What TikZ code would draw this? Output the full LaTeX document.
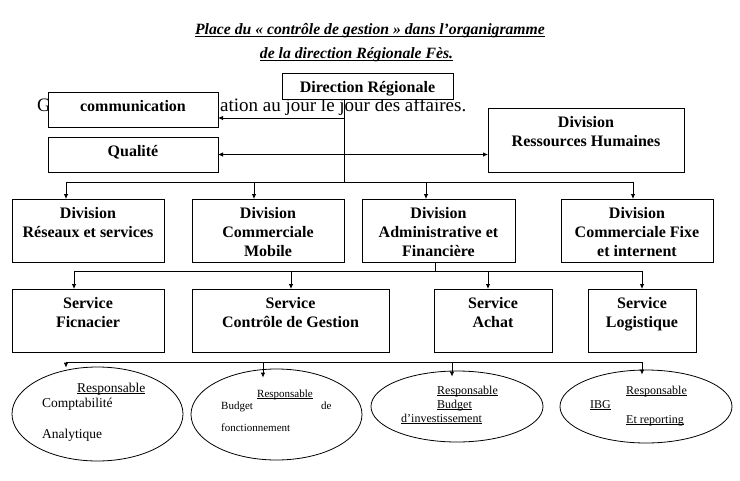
\documentclass[tikz,border=0pt]{standalone}
\usepackage{fontspec}
\setmainfont{Liberation Serif}
\usetikzlibrary{arrows.meta,shapes.geometric}
\newcommand\ulx[2][1.6pt]{\setbox0\hbox{#2}\rlap{\rule[-#1]{\wd0}{0.8pt}}\box0}
\newcommand\setfs[1]{\fontsize{#1}{#1}\selectfont}
\tikzset{
  box/.style={draw, fill=white, line width=0.8pt, inner sep=0pt, outer sep=0pt},
  lab/.style={anchor=north, align=center, inner sep=0pt, yshift=-6pt, font=\bfseries\fontsize{16}{19}\selectfont},
  conn/.style={line width=0.8pt},
  arr/.style={line width=0.8pt, -{Latex[length=5pt,width=4.5pt]}},
  darr/.style={line width=0.8pt, {Latex[length=5pt,width=4.5pt]}-{Latex[length=5pt,width=4.5pt]}},
  oval/.style={draw, ellipse, line width=0.8pt, inner sep=0pt},
  etext/.style={anchor=base west, inner sep=0pt},
  ttl/.style={anchor=base, inner sep=0pt, font=\bfseries\itshape\setfs{15.7}},
  bgtext/.style={anchor=base west, inner sep=0pt, font=\setfs{19}},
}
\begin{document}
\begin{tikzpicture}[x=1pt,y=-1pt]
\fill[white] (0,0) rectangle (740,480);
\useasboundingbox (0,0) rectangle (740,480);

% title
\node[ttl] (title1) at (370,34)
  {\ulx[3pt]{Place du « contrôle de gestion » dans l’organigramme}};
\node[ttl] (title2) at (356.5,58)
  {\ulx[3pt]{de la direction Régionale Fès.}};

% background text fragments, partly hidden by the boxes
\node[bgtext] (bg1) at (37,111) {G};
\node[bgtext] (bg2) at (220,111) {ation au jour le jour des affaires.};

% top boxes
\node[box, minimum width=171, minimum height=26,
  label={[lab]north:{\strut Direction Régionale}}] (dr) at (367.5,86) {};
\node[box, minimum width=170, minimum height=35,
  label={[lab]north:{\strut communication}}] (com) at (133,109.5) {};
\node[box, minimum width=170, minimum height=35,
  label={[lab]north:{\strut Qualité}}] (qual) at (133,154.5) {};
\node[box, minimum width=196, minimum height=64,
  label={[lab]north:{\strut Division\\\strut Ressources Humaines}}] (drh) at (586,140) {};

% divisions
\node[box, minimum width=152, minimum height=63,
  label={[lab]north:{\strut Division\\\strut Réseaux et services}}] (d1) at (88,230.5) {};
\node[box, minimum width=152, minimum height=63,
  label={[lab]north:{\strut Division\\\strut Commerciale\\\strut Mobile}}] (d2) at (268,230.5) {};
\node[box, minimum width=153, minimum height=63,
  label={[lab]north:{\strut Division\\\strut Administrative et\\\strut Financière}}] (d3) at (438.5,230.5) {};
\node[box, minimum width=152, minimum height=63,
  label={[lab]north:{\strut Division\\\strut Commerciale Fixe\\\strut et internent}}] (d4) at (637,230.5) {};

% services
\node[box, minimum width=152, minimum height=63,
  label={[lab]north:{\strut Service\\\strut Ficnacier}}] (s1) at (88,320.5) {};
\node[box, minimum width=197, minimum height=63,
  label={[lab]north:{\strut Service\\\strut Contrôle de Gestion}}] (s2) at (290.5,320.5) {};
\node[box, minimum width=118, minimum height=63,
  label={[lab]north:{\strut Service\\\strut Achat}}] (s3) at (493,320.5) {};
\node[box, minimum width=108, minimum height=63,
  label={[lab]north:{\strut Service\\\strut Logistique}}] (s4) at (642,320.5) {};

% ellipses
\node[oval, minimum width=171, minimum height=94] (e1) at (97.5,414) {};
\node[oval, minimum width=171, minimum height=91] (e2) at (276.5,414.5) {};
\node[oval, minimum width=172, minimum height=71] (e3) at (457,406.5) {};
\node[oval, minimum width=172, minimum height=73] (e4) at (646,406.5) {};

% ellipse texts
\node[etext, font=\setfs{13.5}] (t1a) at (77,392) {\ulx{Responsable}};
\node[etext, font=\setfs{13.5}] (t1b) at (42,407.5) {Comptabilité};
\node[etext, font=\setfs{13.5}] (t1c) at (42,438) {Analytique};

\node[etext, font=\setfs{11}] (t2a) at (257,397) {\ulx{Responsable}};
\node[etext, font=\setfs{11}] (t2b) at (221,409) {Budget};
\node[etext, font=\setfs{11}] (t2c) at (321,409) {de};
\node[etext, font=\setfs{11}] (t2d) at (221,431) {fonctionnement};

\node[etext, font=\setfs{12}] (t3a) at (437,394) {\ulx{Responsable}};
\node[etext, font=\setfs{12}] (t3b) at (437,408) {\ulx{Budget}};
\node[etext, font=\setfs{12}] (t3c) at (401,422) {\ulx{d’investissement}};

\node[etext, font=\setfs{12}] (t4a) at (626,394) {\ulx{Responsable}};
\node[etext, font=\setfs{12}] (t4b) at (590,408) {\ulx{IBG}};
\node[etext, font=\setfs{12}] (t4c) at (626,423) {\ulx{Et reporting}};

% junction coordinates
\coordinate (ja) at (344,118);
\coordinate (j1) at (344,182);
\coordinate (b1) at (66,182);
\coordinate (b2) at (254,182);
\coordinate (b3) at (426,182);
\coordinate (b4) at (633,182);
\coordinate (c0) at (435,271);
\coordinate (c1) at (74,271);
\coordinate (c2) at (291,271);
\coordinate (c3) at (488,271);
\coordinate (c4) at (642,271);
\coordinate (f1) at (66,362);
\coordinate (f2) at (263,362);
\coordinate (f3) at (452,362);
\coordinate (f4) at (642,362);

% connectors level 1
\draw[conn] (dr.south -| j1) -- (j1);
\draw[arr] (ja) -- (com.east |- ja);
\draw[darr] (qual.east) -- (drh.west |- qual.east);
\draw[conn] (b1) -- (b4);
\draw[arr] (b1) -- (b1 |- d1.north);
\draw[arr] (b2) -- (b2 |- d2.north);
\draw[arr] (b3) -- (b3 |- d3.north);
\draw[arr] (b4) -- (b4 |- d4.north);

% connectors level 2
\draw[conn] (d3.south -| c0) -- (c0);
\draw[conn] (c1) -- (c4);
\draw[arr] (c1) -- (c1 |- s1.north);
\draw[arr] (c2) -- (c2 |- s2.north);
\draw[arr] (c3) -- (c3 |- s3.north);
\draw[arr] (c4) -- (c4 |- s4.north);

% connectors level 3
\draw[conn] (f1) -- (f4);
\draw[arr] (f1) -- ([yshift=-1pt]f1 |- e1.north);
\draw[arr] (f2) -- ([yshift=-9pt]f2 |- e2.north);
\draw[arr] (f3) -- ([yshift=-6pt]f3 |- e3.north);
\draw[arr] (f4) -- ([yshift=-5pt]f4 |- e4.north);
\end{tikzpicture}
\end{document}
